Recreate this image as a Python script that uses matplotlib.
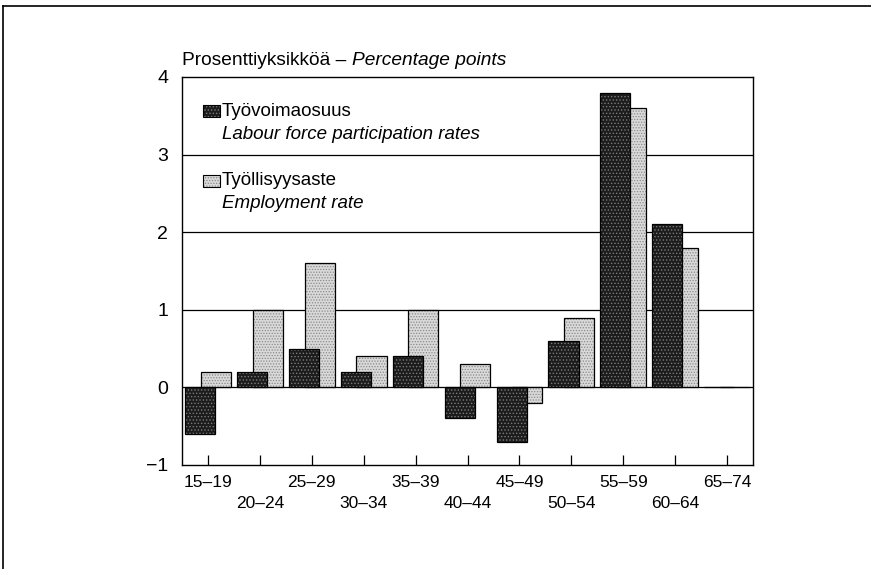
import matplotlib
matplotlib.use("Agg")
import matplotlib.pyplot as plt
from matplotlib.patches import Rectangle
from matplotlib.lines import Line2D
import numpy as np

plt.rcParams['font.family'] = ['Liberation Sans', 'DejaVu Sans']
plt.rcParams['hatch.linewidth'] = 0.6

# age groups
age_groups = ['15–19', '20–24', '25–29', '30–34', '35–39', '40–44',
              '45–49', '50–54', '55–59', '60–64', '65–74']
# change in percentage points
participation = [-0.6, 0.2, 0.5, 0.2, 0.4, -0.4, -0.7, 0.6, 3.8, 2.1, 0.0]
employment = [0.2, 1.0, 1.6, 0.4, 1.0, 0.3, -0.2, 0.9, 3.6, 1.8, 0.0]
yticks = [-1, 0, 1, 2, 3, 4]

fig = plt.figure(figsize=(8.71, 5.69), dpi=100)
ax = fig.add_axes([0.209, 0.1828, 0.6555, 0.6819])

x = np.arange(len(age_groups))
w = 0.58
off = 0.15
fs = 12.5
lfs = 13.5

# light bars first, dark ones sit on top
ax.bar(x + off, employment, w, color='#d9d9d9', hatch='......',
       edgecolor='#8a8a8a', linewidth=0, zorder=3)
ax.bar(x + off, employment, w, fill=False, edgecolor='black',
       linewidth=0.9, zorder=3)
ax.bar(x - off, participation, w, color='#1c1c1c', hatch='.....',
       edgecolor='#7a7a7a', linewidth=0, zorder=4)
ax.bar(x - off, participation, w, fill=False, edgecolor='black',
       linewidth=0.9, zorder=4)

ax.set_xlim(-0.5, len(age_groups) - 0.5)
ax.set_ylim(-1, 4)
ax.set_yticks(yticks)
ax.set_yticklabels(['−1' if v < 0 else str(v) for v in yticks], fontsize=14)
ax.tick_params(axis='y', length=0, pad=10)

# horizontal lines
for v in [0, 1, 2, 3]:
    ax.axhline(v, color='black', linewidth=0.9, zorder=2)

ax.set_xticks(x)
ax.set_xticklabels([])
ax.tick_params(axis='x', direction='in', length=7, width=0.9)
for i, lab in enumerate(age_groups):
    dy = -0.045 if i % 2 == 0 else -0.1
    ax.text(i, dy, lab, transform=ax.get_xaxis_transform(), ha='center',
            va='center', fontsize=fs)

for s in ax.spines.values():
    s.set_linewidth(1.0)

# title
t1 = fig.text(0.209, 0.894, 'Prosenttiyksikköä – ', fontsize=lfs + 0.3,
              ha='left', va='center')
ax.annotate('Percentage points', xy=(1, 0.5), xycoords=t1, fontsize=lfs + 0.3,
            style='italic', ha='left', va='center', annotation_clip=False)

# legend
ax.add_patch(Rectangle((0.037, 0.896), 0.03, 0.031, transform=ax.transAxes,
                       facecolor='#1c1c1c', hatch='.....', edgecolor='#7a7a7a',
                       linewidth=0, zorder=5))
ax.add_patch(Rectangle((0.037, 0.896), 0.03, 0.031, transform=ax.transAxes,
                       fill=False, edgecolor='black', linewidth=0.8, zorder=5))
ax.text(0.07, 0.912, 'Työvoimaosuus', transform=ax.transAxes, fontsize=lfs,
        va='center', ha='left', zorder=5)
ax.text(0.07, 0.852, 'Labour force participation rates', transform=ax.transAxes,
        fontsize=lfs, style='italic', va='center', ha='left', zorder=5)
ax.add_patch(Rectangle((0.037, 0.717), 0.03, 0.031, transform=ax.transAxes,
                       facecolor='#d9d9d9', hatch='......', edgecolor='#8a8a8a',
                       linewidth=0, zorder=5))
ax.add_patch(Rectangle((0.037, 0.717), 0.03, 0.031, transform=ax.transAxes,
                       fill=False, edgecolor='black', linewidth=0.8, zorder=5))
ax.text(0.07, 0.732, 'Työllisyysaste', transform=ax.transAxes, fontsize=lfs,
        va='center', ha='left', zorder=5)
ax.text(0.07, 0.675, 'Employment rate', transform=ax.transAxes, fontsize=lfs,
        style='italic', va='center', ha='left', zorder=5)

# outer frame (top and left)
fig.add_artist(Line2D([0.004, 1.0], [0.989, 0.989], color='black',
                      linewidth=1.2, transform=fig.transFigure))
fig.add_artist(Line2D([0.004, 0.004], [0.0, 0.989], color='black',
                      linewidth=1.2, transform=fig.transFigure))

fig.savefig('out.png', dpi=100)
